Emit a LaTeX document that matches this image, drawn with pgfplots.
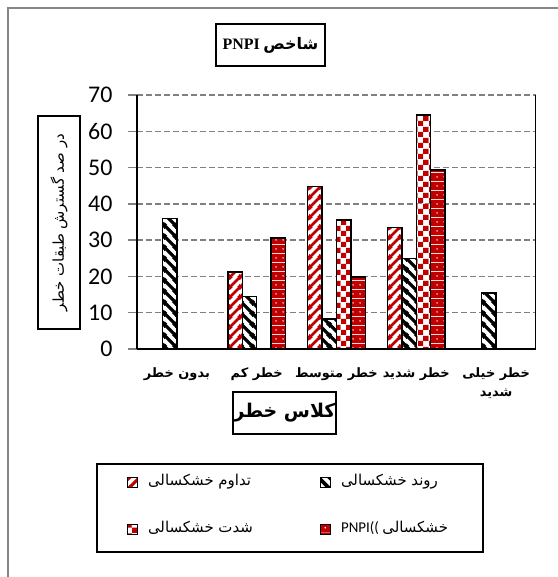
\documentclass[border=0pt]{standalone}
\usepackage{fontspec}
\usepackage{pgfplots}
\pgfplotsset{compat=1.18}
\usetikzlibrary{patterns}
\setmainfont{Carlito}
\newfontfamily\fa[Script=Arabic]{DejaVu Sans}
\newfontfamily\tnr{Liberation Serif}
\TeXXeTstate=1
\definecolor{drought}{RGB}{192,0,0}
\definecolor{gridgray}{RGB}{128,128,128}
\definecolor{framegray}{RGB}{134,134,134}

% red diagonal stripes on white
\pgfdeclarepatterninherentlycolored{redstripes}
{\pgfqpoint{0bp}{0bp}}{\pgfqpoint{10bp}{10bp}}{\pgfqpoint{10bp}{10bp}}
{%
 \pgfsetfillcolor{white}
 \pgfpathrectangle{\pgfqpoint{0bp}{0bp}}{\pgfqpoint{10bp}{10bp}}
 \pgfusepath{fill}
 \pgfsetstrokecolor{drought}
 \pgfsetlinewidth{3bp}
 \pgfpathmoveto{\pgfqpoint{-2bp}{-2bp}}\pgfpathlineto{\pgfqpoint{12bp}{12bp}}
 \pgfpathmoveto{\pgfqpoint{-2bp}{8bp}}\pgfpathlineto{\pgfqpoint{2bp}{12bp}}
 \pgfpathmoveto{\pgfqpoint{8bp}{-2bp}}\pgfpathlineto{\pgfqpoint{12bp}{2bp}}
 \pgfusepath{stroke}
}
% black back-diagonal stripes on white
\pgfdeclarepatterninherentlycolored{blackstripes}
{\pgfqpoint{0bp}{0bp}}{\pgfqpoint{11bp}{11bp}}{\pgfqpoint{11bp}{11bp}}
{%
 \pgfsetfillcolor{white}
 \pgfpathrectangle{\pgfqpoint{0bp}{0bp}}{\pgfqpoint{11bp}{11bp}}
 \pgfusepath{fill}
 \pgfsetstrokecolor{black}
 \pgfsetlinewidth{3.6bp}
 \pgfpathmoveto{\pgfqpoint{-2bp}{13bp}}\pgfpathlineto{\pgfqpoint{13bp}{-2bp}}
 \pgfpathmoveto{\pgfqpoint{-2bp}{2bp}}\pgfpathlineto{\pgfqpoint{2bp}{-2bp}}
 \pgfpathmoveto{\pgfqpoint{9bp}{13bp}}\pgfpathlineto{\pgfqpoint{13bp}{9bp}}
 \pgfusepath{stroke}
}
% red/white checkerboard
\pgfdeclarepatterninherentlycolored{redchecker}
{\pgfqpoint{0bp}{0bp}}{\pgfqpoint{11bp}{11bp}}{\pgfqpoint{11bp}{11bp}}
{%
 \pgfsetfillcolor{white}
 \pgfpathrectangle{\pgfqpoint{0bp}{0bp}}{\pgfqpoint{11bp}{11bp}}
 \pgfusepath{fill}
 \pgfsetfillcolor{drought}
 \pgfpathrectangle{\pgfqpoint{0bp}{0bp}}{\pgfqpoint{5.5bp}{5.5bp}}
 \pgfpathrectangle{\pgfqpoint{5.5bp}{5.5bp}}{\pgfqpoint{5.5bp}{5.5bp}}
 \pgfusepath{fill}
}
% red with small white dots
\pgfdeclarepatterninherentlycolored{reddots}
{\pgfqpoint{0bp}{0bp}}{\pgfqpoint{7bp}{9bp}}{\pgfqpoint{7bp}{9bp}}
{%
 \pgfsetfillcolor{drought}
 \pgfpathrectangle{\pgfqpoint{0bp}{0bp}}{\pgfqpoint{7bp}{9bp}}
 \pgfusepath{fill}
 \pgfsetfillcolor{white}
 \pgfpathcircle{\pgfqpoint{3.5bp}{4.5bp}}{0.9bp}
 \pgfusepath{fill}
}

\pgfplotsset{
  myleg/.style={legend image code/.code={\draw[##1,line width=1bp] (0bp,-5bp) rectangle (10bp,5bp);}},
}

\begin{document}
\begin{tikzpicture}
\useasboundingbox (0,0) rectangle (558bp,577bp);
\draw[framegray, line width=2bp] (8bp,0) -- (8bp,569bp) -- (558bp,569bp);

\begin{axis}[
  at={(137bp,228bp)}, anchor=south west,
  scale only axis, width=399bp, height=254bp,
  ybar=0pt, bar width=14.4bp,
  xmin=-0.5, xmax=4.5, ymin=0, ymax=70,
  xtick={0,1,2,3,4},
  xticklabels={{\beginR بدون خطر\endR},{\beginR خطر کم\endR},{\beginR خطر متوسط\endR},{\beginR خطر شدید\endR},{\beginR خطر خیلی\endR\\\beginR شدید\endR}},
  ytick={0,10,...,70},
  axis lines=left,
  axis line style={-, line width=1.5bp, black},
  xtick style={draw=none},
  ytick style={gridgray, line width=1.5bp},
  tick align=outside,
  major tick length=9bp,
  ymajorgrids=true,
  grid style={gridgray, line width=1.5bp, dash pattern=on 6bp off 3bp},
  /pgf/number format/assume math mode=true,
  yticklabel style={font=\fontsize{24}{24}\selectfont, xshift=-12bp},
  xticklabel style={font=\fa\bfseries\fontsize{13}{19}\selectfont, align=center, yshift=-6bp},
  legend columns=2,
  legend style={at={(-0.025,-0.5)}, anchor=north west, draw=none, fill=none,
    inner sep=0pt, outer sep=0pt,
    font=\fontsize{15}{18}\selectfont,
    nodes={inner sep=0pt, text height=10bp, text depth=4bp},
    row sep=33bp,
    /tikz/every odd column/.append style={column sep=10bp},
    /tikz/every even column/.append style={column sep=2bp}},
]
\addplot[draw=black, line width=1.5bp, pattern=redstripes, myleg]
  coordinates {(1,21.2) (2,44.8) (3,33.5)};
\addlegendentry{\makebox[170bp][l]{\fa\beginR تداوم خشکسالی\endR}}
\addplot[draw=black, line width=1.5bp, pattern=blackstripes, myleg]
  coordinates {(0,36) (1,14.5) (2,8.3) (3,25) (4,15.5)};
\addlegendentry{\makebox[140bp][l]{\fa\beginR روند خشکسالی\endR}}
\addplot[draw=black, line width=1.5bp, pattern=redchecker, myleg]
  coordinates {(2,35.5) (3,64.5)};
\addlegendentry{\makebox[170bp][l]{\fa\beginR شدت خشکسالی\endR}}
\addplot[draw=black, line width=1.5bp, pattern=reddots, myleg]
  coordinates {(1,30.6) (2,19.8) (3,49.3)};
\addlegendentry{\makebox[140bp][l]{PNPI((\ {\fa\beginR خشکسالی\endR}}}
\draw[black, line width=1.5bp] (rel axis cs:1,0) -- (rel axis cs:1,1);
\end{axis}

\node[draw, line width=1.5bp, minimum width=109bp, minimum height=42bp, inner sep=0pt,
  font=\bfseries\fontsize{16}{20}\selectfont] at (270.5bp,532bp)
  {\beginR{\fa شاخص} {\tnr PNPI}\endR};
\node[draw, line width=1.5bp, rotate=90, minimum width=213bp, minimum height=42bp, inner sep=0pt,
  font=\fa\fontsize{15}{18}\selectfont] at (59bp,354.5bp)
  {\beginR در صد گسترش طبقات خطر\endR};
\node[draw, line width=1.5bp, minimum width=103bp, minimum height=42bp, inner sep=0pt,
  font=\fa\bfseries\fontsize{19}{22}\selectfont] at (284.5bp,164bp)
  {\beginR کلاس خطر\endR};
\draw[line width=1.5bp] (97bp,25bp) rectangle (483bp,113bp);
\end{tikzpicture}
\end{document}
